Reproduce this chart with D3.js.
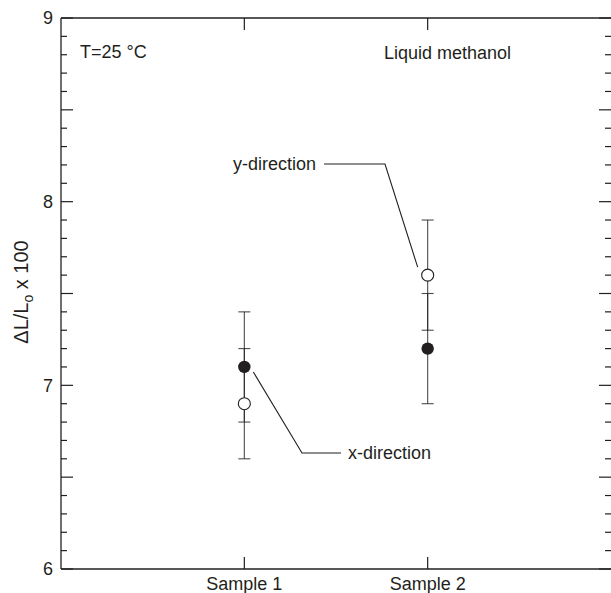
<!DOCTYPE html>
<html>
<head>
<meta charset="utf-8">
<script src="https://cdn.jsdelivr.net/npm/d3@7"></script>
<style>
  html, body { margin: 0; padding: 0; background: #fff; }
  svg { display: block; font-family: "Liberation Sans", Arial, Helvetica, sans-serif; }
</style>
</head>
<body>
<svg id="chart" width="611" height="593"></svg>
<script>
// Samples along the x axis
const samples = ["Sample 1", "Sample 2"];
// Strain in x-direction (filled) and y-direction (open), with ± error
const xDirection = [7.1, 7.2];
const xDirectionErr = [0.3, 0.3];
const yDirection = [6.9, 7.6];
const yDirectionErr = [0.3, 0.3];
// Y axis labelled ticks
const yTickLabels = [6, 7, 8, 9];

const svg = d3.select("#chart");
const plotLeft = 61, plotRight = 611, plotTop = 18, plotBottom = 569;
const fontSize = 18;

const x = d3.scaleLinear().domain([0, samples.length + 1]).range([plotLeft, plotRight]);
const y = d3.scaleLinear().domain([6, 9]).range([plotBottom, plotTop]);

const ink = "#231f20";

// Frame (right edge sits just past the canvas)
const frame = svg.append("g").attr("stroke", ink).attr("stroke-width", 1.3).attr("fill", "none");
frame.append("line").attr("x1", plotLeft).attr("x2", plotRight + 2).attr("y1", plotTop).attr("y2", plotTop);
frame.append("line").attr("x1", plotLeft).attr("x2", plotRight + 2).attr("y1", plotBottom).attr("y2", plotBottom);
frame.append("line").attr("x1", plotLeft).attr("x2", plotLeft).attr("y1", plotTop).attr("y2", plotBottom);
frame.append("line").attr("x1", plotRight + 2).attr("x2", plotRight + 2).attr("y1", plotTop).attr("y2", plotBottom);

// Y ticks: major every 0.5, minor every 0.1, pointing inward on both sides
const minorTicks = d3.range(60, 91).map(v => v / 10);
const ticksG = svg.append("g").attr("stroke", ink).attr("stroke-width", 1.2);
minorTicks.forEach(v => {
  const isMajor = Math.round(v * 10) % 5 === 0;
  const len = isMajor ? 12 : 6;
  const yy = y(v);
  ticksG.append("line").attr("x1", plotLeft).attr("x2", plotLeft + len).attr("y1", yy).attr("y2", yy);
  ticksG.append("line").attr("x1", plotRight - len).attr("x2", plotRight + 2).attr("y1", yy).attr("y2", yy);
});

// Y axis labels
const yAxis = d3.axisLeft(y).tickValues(yTickLabels).tickSize(0).tickPadding(8).tickFormat(d3.format("d"));
const yAxisG = svg.append("g").attr("transform", `translate(${plotLeft},0)`).call(yAxis);
yAxisG.select(".domain").remove();
yAxisG.selectAll("text").attr("font-size", fontSize).attr("fill", ink).attr("font-family", "Liberation Sans, Arial, sans-serif");

// X ticks (top and bottom, inward) and sample labels
samples.forEach((s, i) => {
  const xx = x(i + 1);
  ticksG.append("line").attr("x1", xx).attr("x2", xx).attr("y1", plotBottom).attr("y2", plotBottom - 12);
  ticksG.append("line").attr("x1", xx).attr("x2", xx).attr("y1", plotTop).attr("y2", plotTop + 12);
  svg.append("text").attr("x", xx).attr("y", plotBottom + 21).attr("text-anchor", "middle")
    .attr("font-size", fontSize).attr("fill", ink).text(s);
});

// Y axis title
const yTitle = svg.append("text")
  .attr("transform", `translate(28,292) rotate(-90)`)
  .attr("text-anchor", "middle").attr("font-size", 20).attr("fill", ink);
yTitle.append("tspan").text("\u0394L/L");
yTitle.append("tspan").attr("font-size", 14).attr("dy", 5).text("o");
yTitle.append("tspan").attr("dy", -5).text(" x 100");

// Error bars
const errG = svg.append("g").attr("stroke", ink).attr("stroke-width", 1.1).attr("stroke-opacity", 0.8);
function errorBar(i, v, e) {
  const xx = x(i + 1);
  errG.append("line").attr("x1", xx).attr("x2", xx).attr("y1", y(v - e)).attr("y2", y(v + e));
  [v - e, v + e].forEach(c => {
    errG.append("line").attr("x1", xx - 6).attr("x2", xx + 6).attr("y1", y(c)).attr("y2", y(c));
  });
}
xDirection.forEach((v, i) => errorBar(i, v, xDirectionErr[i]));
yDirection.forEach((v, i) => errorBar(i, v, yDirectionErr[i]));

// Points
yDirection.forEach((v, i) => {
  svg.append("circle").attr("cx", x(i + 1)).attr("cy", y(v)).attr("r", 6)
    .attr("fill", "#fff").attr("stroke", ink).attr("stroke-width", 1.1);
});
xDirection.forEach((v, i) => {
  svg.append("circle").attr("cx", x(i + 1)).attr("cy", y(v)).attr("r", 6.2).attr("fill", ink);
});

// Annotations
svg.append("text").attr("x", 80).attr("y", 58).attr("font-size", fontSize).attr("fill", ink).text("T=25 \u00b0C");
svg.append("text").attr("x", 384).attr("y", 59).attr("font-size", fontSize).attr("fill", ink).text("Liquid methanol");

// Leader for y-direction (points at Sample 2 open circle)
const leadY = [[324, 164], [385, 164], [x(2) - 10, y(yDirection[1]) - 8]];
svg.append("path").attr("d", d3.line()(leadY)).attr("fill", "none").attr("stroke", ink).attr("stroke-width", 1.1);
svg.append("text").attr("x", 316).attr("y", 170).attr("text-anchor", "end").attr("font-size", fontSize).attr("fill", ink).text("y-direction");

// Leader for x-direction (points at Sample 1 filled circle)
const leadX = [[x(1) + 9, y(xDirection[0]) + 5], [302, 453], [341, 453]];
svg.append("path").attr("d", d3.line()(leadX)).attr("fill", "none").attr("stroke", ink).attr("stroke-width", 1.1);
svg.append("text").attr("x", 348).attr("y", 459).attr("font-size", fontSize).attr("fill", ink).text("x-direction");
</script>
</body>
</html>
